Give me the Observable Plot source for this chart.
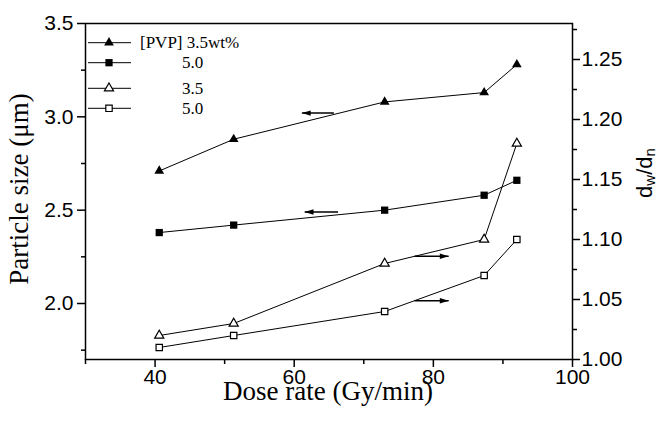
<!DOCTYPE html>
<html>
<head>
<meta charset="utf-8">
<script src="https://cdn.jsdelivr.net/npm/d3@7"></script>
<script src="https://cdn.jsdelivr.net/npm/@observablehq/plot@0.6"></script>
<style>
  body { margin: 0; background: #fff; }
</style>
</head>
<body>
<div id="chart"></div>
<script>
// Dose rate (Gy/min) shared by every series
const doseRate = [40.6, 51.3, 73.0, 87.3, 92.0];
// Particle size (µm), left axis
const sizePVP35 = [2.71, 2.88, 3.08, 3.13, 3.28];
const sizePVP50 = [2.38, 2.42, 2.50, 2.58, 2.66];
// Polydispersity dw/dn, right axis
const ratioPVP35 = [1.02, 1.03, 1.08, 1.10, 1.18];
const ratioPVP50 = [1.01, 1.02, 1.04, 1.07, 1.10];

const legendLabels = ["[PVP] 3.5wt%", "5.0", "3.5", "5.0"];
const xTicks = [40, 60, 80, 100];
const xMinorTicks = [30, 50, 70, 90];
const leftTicks = [2.0, 2.5, 3.0, 3.5];
const leftMinorTicks = [1.75, 2.25, 2.75, 3.25];
const rightTicks = [1.00, 1.05, 1.10, 1.15, 1.20, 1.25];
const rightMinorTicks = [1.025, 1.075, 1.125, 1.175, 1.225, 1.275];

const leftDomain = [1.7, 3.5];
const rightDomain = [1.0, 1.28];
// map a right-axis value onto the left (y) scale and back
const toLeft = v => leftDomain[0] + (v - rightDomain[0]) * (leftDomain[1] - leftDomain[0]) / (rightDomain[1] - rightDomain[0]);
const toRight = v => rightDomain[0] + (v - leftDomain[0]) * (rightDomain[1] - rightDomain[0]) / (leftDomain[1] - leftDomain[0]);

const series = (ys, conv = v => v) => doseRate.map((x, i) => ({x, y: conv(ys[i])}));
const s1 = series(sizePVP35);
const s2 = series(sizePVP50);
const s3 = series(ratioPVP35, toLeft);
const s4 = series(ratioPVP50, toLeft);

// arrows telling which axis a curve belongs to (data units)
const arrowsToLeft = [
  {x1: 65.7, x2: 61.1, y: 3.02},
  {x1: 66.3, x2: 61.5, y: 2.49}
];
const arrowsToRight = [
  {x1: 77.3, x2: 82.2, y: toLeft(1.086)},
  {x1: 77.3, x2: 82.2, y: toLeft(1.049)}
];

// slender filled arrowhead, tip at the origin, pointing right
const arrowHead = {
  draw(ctx, size) {
    const k = Math.sqrt(size / Math.PI);
    ctx.moveTo(0, 0);
    ctx.lineTo(-2.6 * k, -0.8 * k);
    ctx.lineTo(-2.6 * k, 0.8 * k);
    ctx.closePath();
  }
};

const lineOpts = {x: "x", y: "y", stroke: "black", strokeWidth: 1};

const plot = Plot.plot({
  width: 660,
  height: 427,
  marginLeft: 85,
  marginRight: 88,
  marginTop: 23,
  marginBottom: 68,
  style: {fontFamily: "'Liberation Sans', Arial, sans-serif", fontSize: "21px", background: "white", color: "black"},
  x: {domain: [30, 100]},
  y: {domain: leftDomain},
  marks: [
    Plot.axisX({ticks: xTicks, tickSize: 8, tickPadding: 2, strokeWidth: 1.5, label: null}),
    Plot.axisX({ticks: xMinorTicks, tickSize: 5, strokeWidth: 1.5, tickFormat: () => "", label: null}),
    Plot.axisY({ticks: leftTicks, tickSize: 8, tickPadding: 4, strokeWidth: 1.5, tickFormat: ".1f", label: null}),
    Plot.axisY({ticks: leftMinorTicks, tickSize: 4, strokeWidth: 1.5, tickFormat: () => "", label: null}),
    Plot.axisY({anchor: "right", ticks: rightTicks.map(toLeft), tickSize: 7, tickPadding: 2, strokeWidth: 1.5,
                tickFormat: v => toRight(v).toFixed(2), label: null}),
    Plot.axisY({anchor: "right", ticks: rightMinorTicks.map(toLeft), tickSize: 4, strokeWidth: 1.5,
                tickFormat: () => "", label: null}),
    Plot.frame({stroke: "black", strokeWidth: 1.5}),

    Plot.line(s1, lineOpts),
    Plot.line(s2, lineOpts),
    Plot.line(s3, lineOpts),
    Plot.line(s4, lineOpts),

    Plot.dot(s1, {x: "x", y: "y", symbol: "triangle", r: 3.6, fill: "black", stroke: "none"}),
    Plot.dot(s2, {x: "x", y: "y", symbol: "square", r: 4.1, fill: "black", stroke: "none"}),
    Plot.dot(s3, {x: "x", y: "y", symbol: "triangle", r: 3.4, fill: "white", stroke: "black", strokeWidth: 1.2}),
    Plot.dot(s4, {x: "x", y: "y", symbol: "square", r: 3.6, fill: "white", stroke: "black", strokeWidth: 1.2}),

    Plot.link(arrowsToLeft, {x1: "x1", x2: "x2", y1: "y", y2: "y", stroke: "black", strokeWidth: 1.5}),
    Plot.dot(arrowsToLeft, {x: "x2", y: "y", symbol: arrowHead, r: 3.4, rotate: 180, fill: "black", stroke: "none"}),
    Plot.link(arrowsToRight, {x1: "x1", x2: "x2", y1: "y", y2: "y", stroke: "black", strokeWidth: 1.5}),
    Plot.dot(arrowsToRight, {x: "x2", y: "y", symbol: arrowHead, r: 3.4, rotate: 0, fill: "black", stroke: "none"})
  ]
});

const svg = d3.select(plot);
const serif = "'Liberation Serif', 'Times New Roman', serif";

// axis titles
svg.append("text")
  .attr("transform", "translate(28,189) rotate(-90)")
  .attr("text-anchor", "middle")
  .style("font-family", serif)
  .style("font-size", "27px")
  .text("Particle size (\u03bcm)");

svg.append("text")
  .attr("x", 328)
  .attr("y", 400)
  .attr("text-anchor", "middle")
  .style("font-family", serif)
  .style("font-size", "27px")
  .text("Dose rate (Gy/min)");

const rl = svg.append("text")
  .attr("transform", "translate(652,173) rotate(-90)")
  .attr("text-anchor", "middle")
  .style("font-family", "'Liberation Sans', Arial, sans-serif")
  .style("font-size", "22px");
rl.append("tspan").text("d");
rl.append("tspan").attr("dy", 3).style("font-size", "15px").text("w");
rl.append("tspan").attr("dy", -3).text("/d");
rl.append("tspan").attr("dy", 3).style("font-size", "15px").text("n");

// legend inside the frame
const legendRows = [
  {y: 42.7, type: d3.symbolTriangle, r: 3.6, fill: "black"},
  {y: 62.7, type: d3.symbolSquare, r: 4.1, fill: "black"},
  {y: 88.3, type: d3.symbolTriangle, r: 3.4, fill: "white"},
  {y: 108.3, type: d3.symbolSquare, r: 3.6, fill: "white"}
];
const lg = svg.append("g");
legendRows.forEach((row, i) => {
  lg.append("line").attr("x1", 88).attr("x2", 131).attr("y1", row.y).attr("y2", row.y)
    .attr("stroke", "black").attr("stroke-width", 1);
  lg.append("path")
    .attr("d", d3.symbol().type(row.type).size(Math.PI * row.r * row.r)())
    .attr("transform", `translate(109,${row.y})`)
    .attr("fill", row.fill)
    .attr("stroke", row.fill === "white" ? "black" : "none")
    .attr("stroke-width", 1.2);
  lg.append("text")
    .attr("x", i === 0 ? 140 : 182)
    .attr("y", row.y + 5.5)
    .attr("text-anchor", "start")
    .style("font-family", serif)
    .style("font-size", "17px")
    .text(legendLabels[i]);
});

document.getElementById("chart").appendChild(plot);
</script>
</body>
</html>
